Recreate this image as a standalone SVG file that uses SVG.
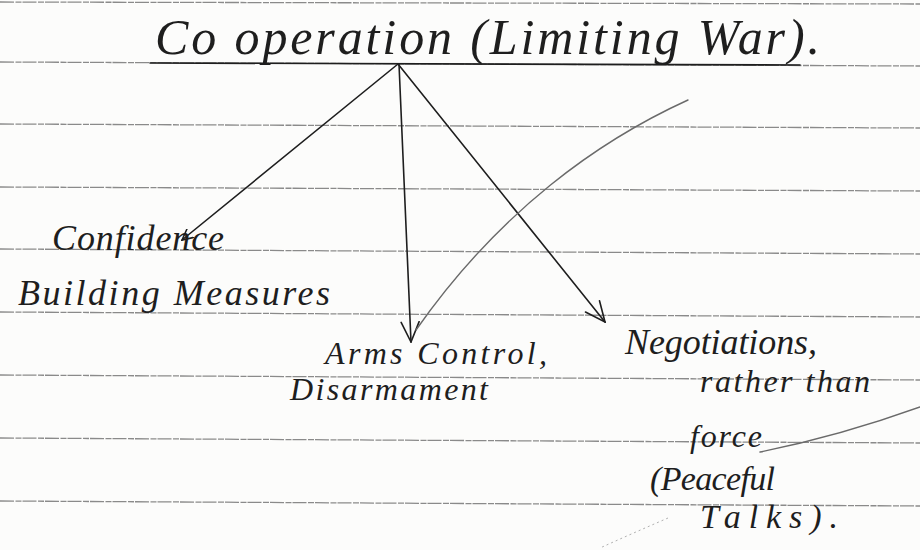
<svg xmlns="http://www.w3.org/2000/svg" width="920" height="550" viewBox="0 0 920 550">
<style>
.paper{fill:#fcfcfb}
.rule{stroke:#8a8a8a;stroke-width:1.3;stroke-dasharray:14 1.5 6 1}
.hw{font-family:"Liberation Serif",serif;font-style:italic;fill:#1e1e1e}
.pen{stroke:#1e1e1e;stroke-width:1.6;fill:none;stroke-linecap:round}
.pencil{stroke:#6a6a6a;stroke-width:1.4;fill:none;stroke-linecap:round}
.faint{stroke:#b0b0b0;stroke-width:1;fill:none;stroke-dasharray:2 3}
</style>
<defs>
<marker id="v" viewBox="0 0 12 12" refX="11" refY="6" markerWidth="12" markerHeight="12" markerUnits="userSpaceOnUse" orient="auto">
<path d="M0,0.5 L11,6 L0,11.5" fill="none" stroke="#1e1e1e" stroke-width="1.6" stroke-linecap="round"/>
</marker>
<marker id="vbig" viewBox="0 0 22 22" refX="21" refY="11" markerWidth="22" markerHeight="22" markerUnits="userSpaceOnUse" orient="auto">
<path d="M1,2 L21,11 L1,20" fill="none" stroke="#1e1e1e" stroke-width="1.6" stroke-linecap="round"/>
</marker>
</defs>
<rect class="paper" x="0" y="0" width="920" height="550"/>
<g id="paper-lines">
<line class="rule" x1="0" y1="2" x2="920" y2="4"/>
<line class="rule" x1="0" y1="62" x2="920" y2="66"/>
<line class="rule" x1="0" y1="124" x2="920" y2="128"/>
<line class="rule" x1="0" y1="187" x2="920" y2="191"/>
<line class="rule" x1="0" y1="249" x2="920" y2="254"/>
<line class="rule" x1="0" y1="312" x2="920" y2="317"/>
<line class="rule" x1="0" y1="375" x2="920" y2="380"/>
<line class="rule" x1="0" y1="438" x2="920" y2="443"/>
<line class="rule" x1="0" y1="501" x2="920" y2="506"/>
</g>
<g id="title">
<text class="hw" x="155" y="54" font-size="50" textLength="665" lengthAdjust="spacing">Co operation (Limiting War).</text>
<line class="pen" x1="150" y1="63" x2="800" y2="65"/>
</g>
<g id="connectors">
<line class="pen" x1="398" y1="64" x2="182" y2="240" marker-end="url(#v)"/>
<line class="pen" x1="399" y1="64" x2="411" y2="342" marker-end="url(#vbig)"/>
<line class="pen" x1="398" y1="64" x2="605" y2="322" marker-end="url(#vbig)"/>
<path class="pencil" d="M688,100 C600,140 500,210 416,330"/>
<path class="pencil" d="M760,452 C820,440 870,425 920,407"/>
<path class="faint" d="M668,518 C645,528 622,538 600,548"/>
</g>
<g id="cbm">
<text class="hw" x="52" y="250" font-size="36" textLength="172" lengthAdjust="spacing">Confidence</text>
<text class="hw" x="18" y="305" font-size="36" textLength="312" lengthAdjust="spacing">Building Measures</text>
</g>
<g id="arms">
<text class="hw" x="325" y="364" font-size="32" textLength="222" lengthAdjust="spacing">Arms Control,</text>
<text class="hw" x="290" y="400" font-size="32" textLength="198" lengthAdjust="spacing">Disarmament</text>
</g>
<g id="negotiations">
<text class="hw" x="625" y="354" font-size="36" textLength="192" lengthAdjust="spacing">Negotiations,</text>
<text class="hw" x="700" y="392" font-size="32" textLength="170" lengthAdjust="spacing">rather than</text>
<text class="hw" x="690" y="447" font-size="32" textLength="72" lengthAdjust="spacing">force</text>
<text class="hw" x="650" y="490" font-size="34" textLength="125" lengthAdjust="spacing">(Peaceful</text>
<text class="hw" x="700" y="528" font-size="34" textLength="138" lengthAdjust="spacing">Talks).</text>
</g>
</svg>
